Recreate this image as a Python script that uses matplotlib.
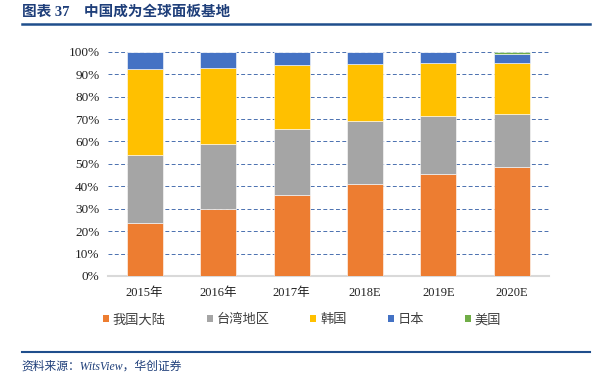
import matplotlib.pyplot as plt
import numpy as np
from matplotlib.patches import Patch
from matplotlib.ticker import PercentFormatter

plt.rcParams['font.family'] = ['Liberation Serif', 'Noto Sans CJK SC']

# data (share of global panel capacity, %)
years = ['2015年', '2016年', '2017年', '2018E', '2019E', '2020E']
mainland = [23.8, 29.9, 35.9, 41.2, 45.5, 48.5]
taiwan = [30.2, 29.2, 29.7, 28.0, 25.8, 23.7]
korea = [38.3, 33.9, 28.6, 25.6, 23.7, 22.8]
japan = [7.7, 7.0, 5.8, 5.2, 5.0, 4.0]
usa = [0.0, 0.0, 0.0, 0.0, 0.0, 1.0]

names = ['我国大陆', '台湾地区', '韩国', '日本', '美国']
colors = ['#ED7D31', '#A5A5A5', '#FFC000', '#4472C4', '#70AD47']
series = [mainland, taiwan, korea, japan, usa]

fig = plt.figure(figsize=(6.09, 3.87), dpi=100)
ax = fig.add_axes([0.177, 0.287, 0.724, 0.579])

x = np.arange(len(years))
bottom = np.zeros(len(years))
for vals, c in zip(series, colors):
    ax.bar(x, vals, 0.49, bottom=bottom, color=c, edgecolor='white', linewidth=0.4, zorder=3)
    bottom = bottom + np.array(vals)

ax.set_ylim(0, 100)
ax.set_xlim(-0.5, len(years) - 0.5)
ax.set_yticks(np.arange(0, 101, 10))
ax.yaxis.set_major_formatter(PercentFormatter(decimals=0))
ax.set_xticks(x)
ax.set_xticklabels(years)
ax.tick_params(axis='both', length=0, labelsize=9.5, colors='#222222')
ax.tick_params(axis='x', pad=8, labelsize=9)
ax.tick_params(axis='y', pad=6)
ax.grid(axis='y', linestyle=(0, (4, 2.5)), color='#4A70B0', linewidth=0.7, zorder=0)
for s in ['top', 'right', 'left']:
    ax.spines[s].set_visible(False)
ax.spines['bottom'].set_color('#D9D9D9')
ax.spines['bottom'].set_linewidth(1.5)

handles = [Patch(facecolor=c, label=n) for n, c in zip(names, colors)]
fig.legend(handles=handles, loc='center', bbox_to_anchor=(0.496, 0.173), ncol=5,
           frameon=False, fontsize=9.5, handlelength=0.45, handleheight=0.45,
           handletextpad=0.3, columnspacing=3.1, labelcolor='#404040')

# title and source
fig.text(0.036, 0.969, '图表 37    中国成为全球面板基地', fontsize=10.5, fontweight='bold',
         color='#1F3F7A', va='center', ha='left')
fig.add_artist(plt.Line2D([0.036, 0.969], [0.938, 0.938], color='#1F4E8C', linewidth=1.8))
fig.add_artist(plt.Line2D([0.036, 0.969], [0.0905, 0.0905], color='#1F4E8C', linewidth=1.5))
fig.text(0.036, 0.052, '资料来源：WitsView，华创证券', fontsize=8.5, style='italic',
         color='#1F3F7A', va='center', ha='left')

fig.savefig('out.png', dpi=100)
